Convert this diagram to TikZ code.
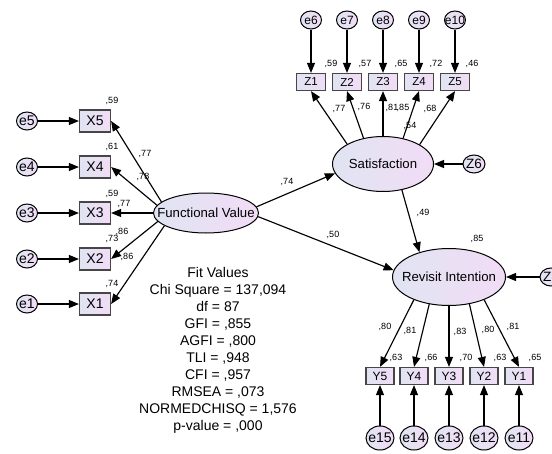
\documentclass[tikz,border=0pt]{standalone}
\usepackage{fontspec}
\setmainfont{Liberation Sans}
\usepackage{tikz}
\usetikzlibrary{arrows.meta,positioning,shapes.geometric}
\definecolor{semBlue}{RGB}{224,228,242}
\definecolor{semPink}{RGB}{242,220,246}
\definecolor{boxEdge}{RGB}{70,70,70}
\newcommand{\ctext}[1]{\makebox[0pt]{#1}}
\newcommand{\fs}[1]{\fontsize{#1}{#1}\selectfont}
\tikzset{
  latent/.style={ellipse,draw=black,line width=1pt,left color=semBlue,right color=semPink,inner sep=0pt,font=\fs{13.2}},
  errc/.style={ellipse,draw=black,line width=1pt,left color=semBlue,right color=semPink,inner sep=0pt},
  obs/.style={rectangle,draw=boxEdge,line width=1.2pt,left color=semBlue,right color=semPink,inner sep=0pt},
  lab/.style={font=\fs{9},inner sep=0pt},
  arr/.style={line width=1.15pt,-{Triangle[length=10pt,width=8pt]}},
}

\begin{document}
\begin{tikzpicture}[x=1pt,y=-1pt]
\useasboundingbox (0,0) rectangle (552,453);
\node[latent,minimum width=105pt,minimum height=40pt] (fv) at (206,213) {\ctext{Functional Value}};
\node[latent,minimum width=101pt,minimum height=55pt] (sat) at (383,164) {\ctext{Satisfaction}};
\node[latent,minimum width=113pt,minimum height=57pt] (rev) at (449,277) {\ctext{Revisit Intention}};
\node[errc,minimum width=22pt,minimum height=18pt,font=\fs{13.5}] (z6) at (474,164) {\ctext{Z6}};
\node[errc,minimum width=22pt,minimum height=18pt,font=\fs{13.5}] (z7) at (551,277) {\ctext{Z7}};
% X side
\node[obs,minimum width=31pt,minimum height=22pt,font=\fs{14}] (x5) at (95,121) {\ctext{X5}};
\node[obs,minimum width=31pt,minimum height=22pt,font=\fs{14}] (x4) at (95,167) {\ctext{X4}};
\node[obs,minimum width=31pt,minimum height=22pt,font=\fs{14}] (x3) at (95,213) {\ctext{X3}};
\node[obs,minimum width=31pt,minimum height=22pt,font=\fs{14}] (x2) at (95,259) {\ctext{X2}};
\node[obs,minimum width=31pt,minimum height=22pt,font=\fs{14}] (x1) at (95,304) {\ctext{X1}};
\node[errc,minimum width=21pt,minimum height=18pt,font=\fs{14}] (e5) at (27,121) {\ctext{e5}};
\node[errc,minimum width=21pt,minimum height=18pt,font=\fs{14}] (e4) at (27,167) {\ctext{e4}};
\node[errc,minimum width=21pt,minimum height=18pt,font=\fs{14}] (e3) at (27,213) {\ctext{e3}};
\node[errc,minimum width=21pt,minimum height=18pt,font=\fs{14}] (e2) at (27,259) {\ctext{e2}};
\node[errc,minimum width=21pt,minimum height=18pt,font=\fs{14}] (e1) at (27,304) {\ctext{e1}};
% Z side
\node[obs,minimum width=29pt,minimum height=17pt,font=\fs{11.5}] (z1) at (311,82) {\ctext{Z1}};
\node[obs,minimum width=29pt,minimum height=17pt,font=\fs{11.5}] (z2) at (347,82) {\ctext{Z2}};
\node[obs,minimum width=29pt,minimum height=17pt,font=\fs{11.5}] (z3) at (383,82) {\ctext{Z3}};
\node[obs,minimum width=29pt,minimum height=17pt,font=\fs{11.5}] (z4) at (419,82) {\ctext{Z4}};
\node[obs,minimum width=29pt,minimum height=17pt,font=\fs{11.5}] (z5) at (455,82) {\ctext{Z5}};
\node[errc,minimum width=21pt,minimum height=18pt,font=\fs{12}] (e6) at (311,20) {\ctext{e6}};
\node[errc,minimum width=21pt,minimum height=18pt,font=\fs{12}] (e7) at (347,20) {\ctext{e7}};
\node[errc,minimum width=21pt,minimum height=18pt,font=\fs{12}] (e8) at (383,20) {\ctext{e8}};
\node[errc,minimum width=21pt,minimum height=18pt,font=\fs{12}] (e9) at (419,20) {\ctext{e9}};
\node[errc,minimum width=21pt,minimum height=18pt,font=\fs{12}] (e10) at (455,20) {\ctext{e10}};
% Y side
\node[obs,minimum width=28pt,minimum height=17pt,font=\fs{12}] (y5) at (380,376) {\ctext{Y5}};
\node[obs,minimum width=28pt,minimum height=17pt,font=\fs{12}] (y4) at (414,376) {\ctext{Y4}};
\node[obs,minimum width=28pt,minimum height=17pt,font=\fs{12}] (y3) at (449,376) {\ctext{Y3}};
\node[obs,minimum width=28pt,minimum height=17pt,font=\fs{12}] (y2) at (484,376) {\ctext{Y2}};
\node[obs,minimum width=28pt,minimum height=17pt,font=\fs{12}] (y1) at (519,376) {\ctext{Y1}};
\node[errc,minimum width=28pt,minimum height=24pt,font=\fs{14}] (e15) at (380,438) {\ctext{e15}};
\node[errc,minimum width=28pt,minimum height=24pt,font=\fs{14}] (e14) at (414,438) {\ctext{e14}};
\node[errc,minimum width=28pt,minimum height=24pt,font=\fs{14}] (e13) at (449,438) {\ctext{e13}};
\node[errc,minimum width=28pt,minimum height=24pt,font=\fs{14}] (e12) at (484,438) {\ctext{e12}};
\node[errc,minimum width=28pt,minimum height=24pt,font=\fs{14}] (e11) at (519,438) {\ctext{e11}};
% paths
\draw[arr] (e5) -- (x5); \draw[arr] (e4) -- (x4); \draw[arr] (e3) -- (x3); \draw[arr] (e2) -- (x2); \draw[arr] (e1) -- (x1);
\draw[arr] (fv.166) -- (x5.east); \draw[arr] (fv.171) -- (x4.east); \draw[arr] (fv.180) -- (x3.east);
\draw[arr] (fv.190) -- (x2.east); \draw[arr] (fv.197) -- (x1.east);
\draw[arr] (e6) -- (z1); \draw[arr] (e7) -- (z2); \draw[arr] (e8) -- (z3); \draw[arr] (e9) -- (z4); \draw[arr] (e10) -- (z5);
\draw[arr] (sat.151) -- (z1.south); \draw[arr] (sat.127) -- (z2.south); \draw[arr] (sat.90) -- (z3.south);
\draw[arr] (sat.52) -- (z4.south); \draw[arr] (sat.28) -- (z5.south);
\draw[arr] (rev.213) -- (y5.north); \draw[arr] (rev.234) -- (y4.north); \draw[arr] (rev.270) -- (y3.north);
\draw[arr] (rev.307) -- (y2.north); \draw[arr] (rev.327) -- (y1.north);
\draw[arr] (e15) -- (y5); \draw[arr] (e14) -- (y4); \draw[arr] (e13) -- (y3); \draw[arr] (e12) -- (y2); \draw[arr] (e11) -- (y1);
\draw[arr] (z6) -- (sat); \draw[arr] (z7) -- (rev);
\draw[arr] (fv.7) -- (sat.191); \draw[arr] (fv.-4) -- (rev.173); \draw[arr] (sat.306) -- (rev.140);
% estimates
\node[lab] (r-x5) at (112,101) {,59}; \node[lab] (r-x4) at (112,147) {,61}; \node[lab] (r-x3) at (112,194) {,59};
\node[lab] (r-x2) at (112,239) {,73}; \node[lab] (r-x1) at (112,284) {,74};
\node[lab] (l-x5) at (145,154) {,77}; \node[lab] (l-x4) at (143,177) {,78}; \node[lab] (l-x3) at (124,204) {,77};
\node[lab] (l-x2a) at (122,232) {,86}; \node[lab] (l-x2b) at (127,257) {,86};
\node[lab] (r-z1) at (331,64) {,59}; \node[lab] (r-z2) at (365,64) {,57}; \node[lab] (r-z3) at (401,64) {,65};
\node[lab] (r-z4) at (436,64) {,72}; \node[lab] (r-z5) at (472,64) {,46};
\node[lab] (l-z1) at (339,109) {,77}; \node[lab] (l-z2) at (364,107) {,76}; \node[lab] (l-z3) at (392,108) {,81};
\node[lab] (l-z4) at (403,108) {,85}; \node[lab] (l-z5) at (430,109) {,68}; \node[lab] (r-sat) at (410,126) {,54};
\node[lab] (b-fs) at (287,182) {,74}; \node[lab] (b-fr) at (333,235) {,50}; \node[lab] (b-sr) at (423,213) {,49};
\node[lab] (r-rev) at (477,239) {,85};
\node[lab] (l-y5) at (385,327) {,80}; \node[lab] (l-y4) at (410,331) {,81}; \node[lab] (l-y3) at (460,332) {,83};
\node[lab] (l-y2) at (488,330) {,80}; \node[lab] (l-y1) at (513,327) {,81};
\node[lab] (r-y5) at (396,358) {,63}; \node[lab] (r-y4) at (431,358) {,66}; \node[lab] (r-y3) at (466,358) {,70};
\node[lab] (r-y2) at (500,358) {,63}; \node[lab] (r-y1) at (535,358) {,65};
\node[font=\fontsize{14}{17}\selectfont,align=center,inner sep=0pt] (fit) at (218,350) {Fit Values\\Chi Square = 137,094\\df = 87\\GFI = ,855\\AGFI = ,800\\TLI = ,948\\CFI = ,957\\RMSEA = ,073\\NORMEDCHISQ = 1,576\\p-value = ,000};
\end{tikzpicture}
\end{document}
